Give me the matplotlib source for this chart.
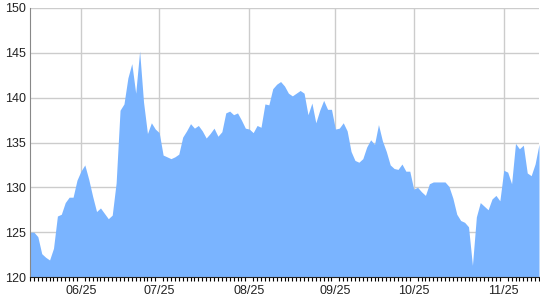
import matplotlib
matplotlib.use("Agg")
import matplotlib.pyplot as plt
import numpy as np

values = [
    125.0, 125.0, 124.5, 122.6, 122.2, 121.9, 123.2, 126.8, 127.0, 128.3,
    128.9, 128.9, 130.8, 131.8, 132.5, 130.9, 129.0, 127.3, 127.7, 127.1,
    126.5, 126.9, 130.5, 138.6, 139.3, 142.2, 143.8, 140.5, 145.2, 139.5,
    136.0, 137.2, 136.5, 136.1, 133.6, 133.4, 133.2, 133.4, 133.7, 135.6,
    136.3, 137.1, 136.6, 136.9, 136.3, 135.5, 136.0, 136.6, 135.7, 136.2,
    138.3, 138.5, 138.1, 138.3, 137.5, 136.6, 136.5, 136.1, 136.9, 136.7,
    139.3, 139.2, 141.0, 141.5, 141.8, 141.3, 140.5, 140.2, 140.5, 140.8,
    140.5, 138.1, 139.4, 137.2, 138.6, 139.7, 138.7, 138.7, 136.5, 136.6,
    137.2, 136.3, 134.0, 133.0, 132.8, 133.2, 134.5, 135.3, 134.8, 137.0,
    135.2, 134.0, 132.5, 132.1, 132.0, 132.6, 131.8, 131.8, 129.8, 130.0,
    129.5, 129.1, 130.4, 130.6, 130.6, 130.6, 130.6, 130.1, 128.8, 127.0,
    126.3, 126.1, 125.6, 121.3, 126.7, 128.3, 127.9, 127.5, 128.7, 129.1,
    128.5, 131.9, 131.7, 130.4, 134.9, 134.3, 134.7, 131.6, 131.3, 132.6,
    134.8,
]
tick_index = [13, 33, 56, 78, 98, 121]
tick_labels = ["06/25", "07/25", "08/25", "09/25", "10/25", "11/25"]
y_ticks = [120, 125, 130, 135, 140, 145, 150]

plt.rcParams['font.family'] = ['Liberation Sans', 'DejaVu Sans']

fig = plt.figure(figsize=(5.4, 3.0), dpi=100)
ax = fig.add_axes([30/540, 1-277/300, 509/540, 269/300])

x = np.arange(len(values))
ax.fill_between(x, 120, values, color='#7ab4ff', linewidth=0, zorder=2)

ax.set_xlim(0, len(values)-1)
ax.set_ylim(120, 150)
ax.set_yticks(y_ticks)
ax.set_yticklabels([str(v) for v in y_ticks], fontsize=9, color='#222222')
ax.set_xticks(tick_index)
ax.set_xticklabels(tick_labels, fontsize=9, color='#222222')
ax.set_xticks(x, minor=True)
ax.tick_params(axis='x', which='major', length=0, pad=6)
ax.tick_params(axis='x', which='minor', length=3, width=0.8, color='black', direction='out')
ax.tick_params(axis='y', length=0, pad=3)

ax.grid(True, which='major', color='#cccccc', linewidth=1, zorder=0)
ax.set_axisbelow(True)
for s in ['top', 'right']:
    ax.spines[s].set_visible(False)
ax.spines['left'].set_color('#888888')
ax.spines['bottom'].set_color('#222222')
ax.spines['bottom'].set_zorder(3)

fig.savefig("out.png", dpi=100)
